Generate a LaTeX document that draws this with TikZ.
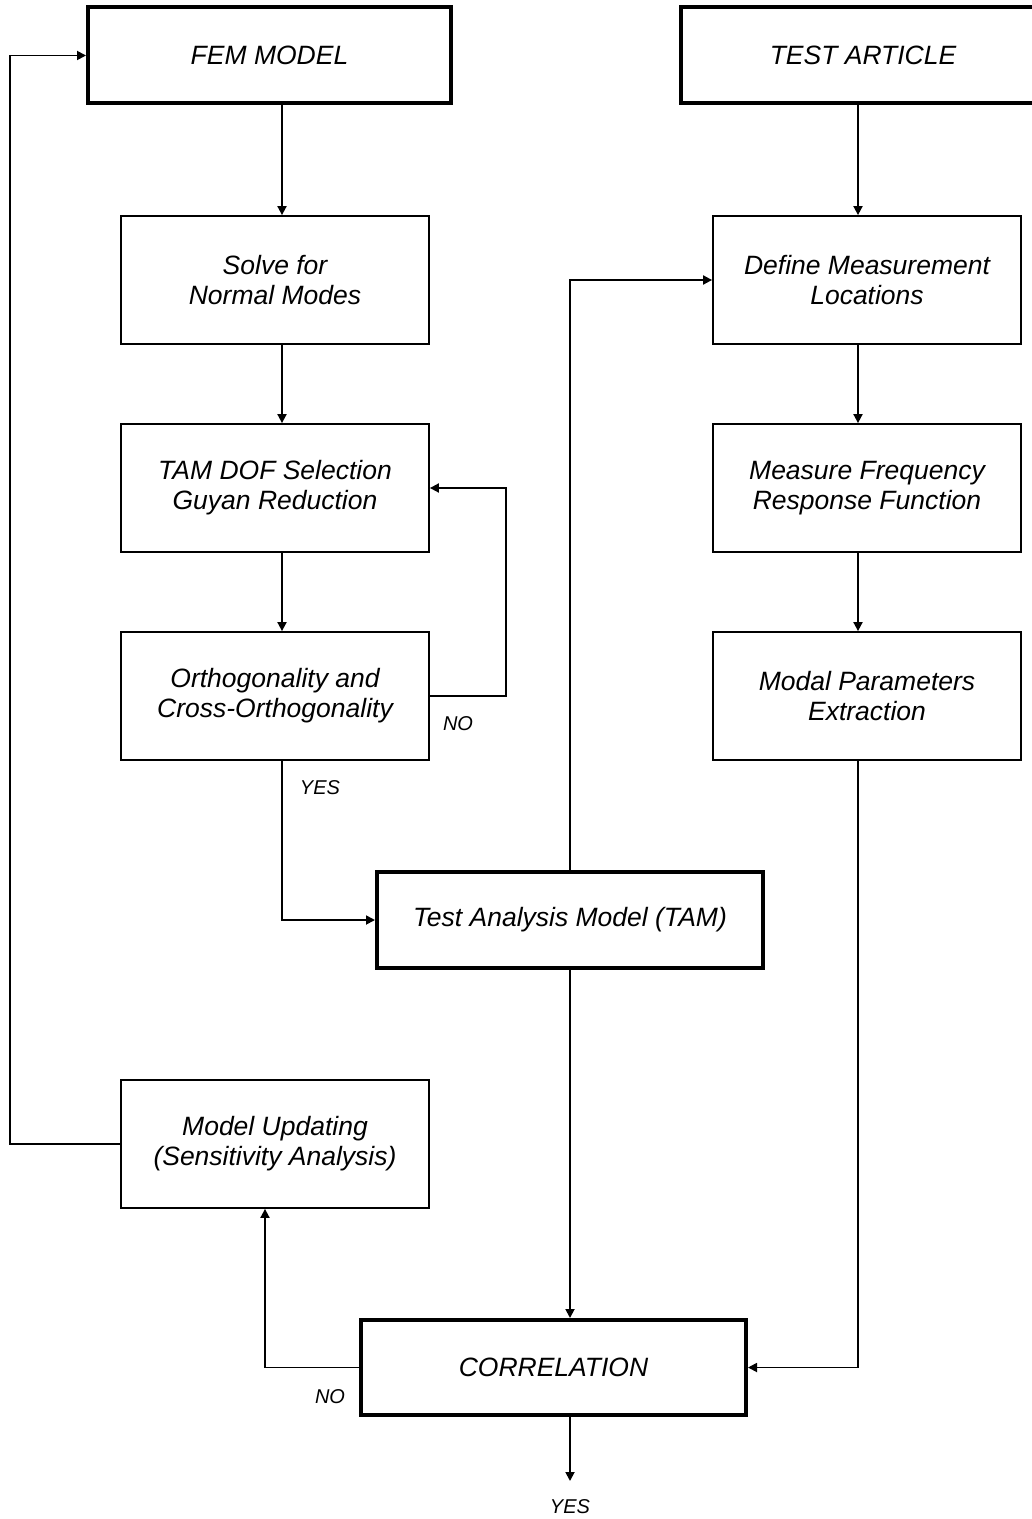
\documentclass[tikz,border=0pt]{standalone}
\usepackage{fontspec}
\setmainfont{Liberation Sans}
\usepackage{tikz}
\usetikzlibrary{arrows.meta,calc,positioning}

\begin{document}
\begin{tikzpicture}[
  x=0.5pt, y=-0.5pt,
  >={Triangle[length=4.5pt,width=4.5pt]},
  box/.style={draw, line width=0.9pt, minimum width=154pt, minimum height=64pt,
    align=center, inner sep=0pt, font=\fontsize{13.25}{15}\selectfont\itshape},
  mainbox/.style={box, line width=2pt, minimum height=48pt},
  lbl/.style={inner sep=1pt, font=\fontsize{10}{12}\selectfont\itshape},
  flow/.style={->, line width=0.9pt}
]
\useasboundingbox (0,0) rectangle (1032,1519);
\node[mainbox,minimum width=181.5pt] (fem) at (269.5,55.5) {FEM MODEL};
\node[mainbox,minimum width=182pt] (article) at (863,55.5) {TEST ARTICLE};
\node[box] (solve) at (275,280) {Solve for\\Normal Modes};
\node[box] (tamdof) at (275,488) {TAM DOF Selection\\Guyan Reduction};
\node[box] (ortho) at (275,696) {Orthogonality and\\Cross-Orthogonality};
\node[box] (define) at (867,280) {Define Measurement\\Locations};
\node[box] (measure) at (867,488) {Measure Frequency\\Response Function};
\node[box] (modal) at (867,696) {Modal Parameters\\Extraction};
\node[mainbox,minimum width=193pt] (tam) at (570,920) {Test Analysis Model (TAM)};
\node[box] (update) at (275,1144) {Model Updating\\(Sensitivity Analysis)};
\node[mainbox,minimum width=192.5pt,minimum height=47.5pt] (corr) at (553.5,1367.5)
  {CORRELATION};
\node[lbl] (orthono) at (458,724) {NO};
\node[lbl] (orthoyes) at (320,788) {YES};
\node[lbl] (corrno) at (330,1397) {NO};
\node[lbl] (corryes) at (570,1507) {YES};
% columns of the connectors
\coordinate (lcol) at (282,0);
\coordinate (rcol) at (858,0);
\coordinate (loopright) at (506,0);
\coordinate (loopmid) at (265,0);
\coordinate (loopleft) at (10,0);
\coordinate (yesend) at (570,1481);
\draw[flow] (lcol |- fem.south) -- (lcol |- solve.north);
\draw[flow] (lcol |- solve.south) -- (lcol |- tamdof.north);
\draw[flow] (lcol |- tamdof.south) -- (lcol |- ortho.north);
\draw[flow] (ortho.east) -- (ortho.east -| loopright) |- (tamdof.east);
\draw[flow] (lcol |- ortho.south) |- (tam.west);
\draw[flow] (rcol |- article.south) -- (rcol |- define.north);
\draw[flow] (rcol |- define.south) -- (rcol |- measure.north);
\draw[flow] (rcol |- measure.south) -- (rcol |- modal.north);
\draw[flow] (tam.north) |- (define.west);
\draw[flow] (tam.south) -- (tam.south |- corr.north);
\draw[flow] (rcol |- modal.south) |- (corr.east);
\draw[flow] (corr.west) -| (loopmid |- update.south);
\draw[flow] (update.west) -| (loopleft |- fem.west) -- (fem.west);
\draw[flow] (corr.south -| yesend) -- (yesend);
\end{tikzpicture}
\end{document}
